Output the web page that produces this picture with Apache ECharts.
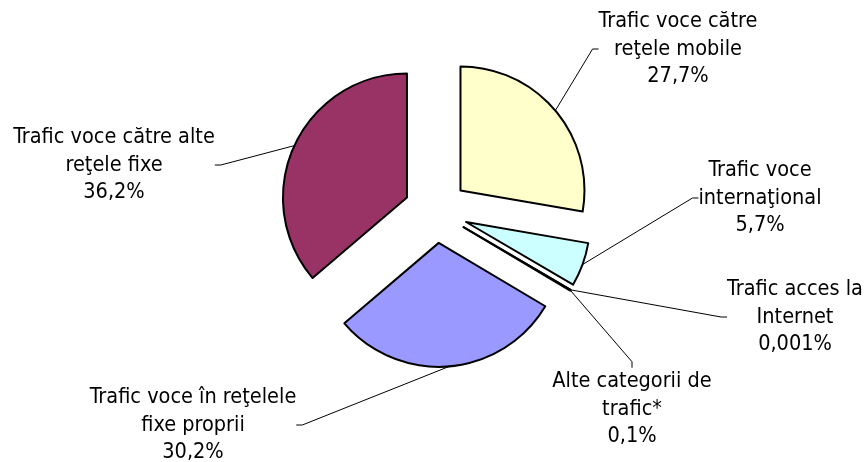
<!DOCTYPE html>
<html>
<head>
<meta charset="utf-8">
<script src="https://cdn.jsdelivr.net/npm/echarts@6/dist/echarts.min.js"></script>
<style>
  html, body { margin: 0; padding: 0; background: #fff; }
  #chart { width: 867px; height: 462px; }
</style>
</head>
<body>
<div id="chart"></div>
<script>
// slices, clockwise from 12 o'clock
const categories = [
  'Trafic voce către\nreţele mobile',
  'Trafic voce\ninternaţional',
  'Trafic acces la\nInternet',
  'Alte categorii de\ntrafic*',
  'Trafic voce în reţelele\nfixe proprii',
  'Trafic voce către alte\nreţele fixe'
];
const shares = [27.7, 5.7, 0.001, 0.1, 30.2, 36.2];
const sliceColors = ['#FFFFCC', '#CCFFFF', '#660066', '#FF8080', '#9999FF', '#993366'];

// layout
const pieCenter = [436, 211];
const pieRadius = 124;
const explode = 32;
// centre of the middle text line of each label block
const labelAnchors = [[678, 49], [760, 198], [795, 317], [632, 409], [193, 425], [114, 165]];
const tickLen = 6;

const fmt = v => String(v).replace('.', ',') + '%';

const chart = echarts.init(document.getElementById('chart'));

// leader line: from the arc midpoint (given by echarts) to the nearest side of the label block
const placeLabel = params => {
  const a = labelAnchors[params.dataIndex];
  const pts = params.labelLinePoints;
  if (!pts) return { x: a[0], y: a[1], align: 'center', verticalAlign: 'middle' };
  const start = pts[0];
  const w = params.labelRect.width;
  const h = params.labelRect.height;
  let end, dir;
  if (start[0] < a[0] - w / 2) {
    end = [a[0] - w / 2, a[1]]; dir = [-1, 0];
  } else if (start[0] > a[0] + w / 2) {
    end = [a[0] + w / 2, a[1]]; dir = [1, 0];
  } else {
    end = [a[0], a[1] - h / 2]; dir = [0, -1];
  }
  const tick = [end[0] + dir[0] * tickLen, end[1] + dir[1] * tickLen];
  return {
    x: a[0], y: a[1], align: 'center', verticalAlign: 'middle',
    labelLinePoints: [start, tick, end]
  };
};

// one pie per slice so each slice can be pulled out along its own mid angle
const total = shares.reduce((s, v) => s + v, 0);
let before = 0;
const series = shares.map((v, k) => {
  const mid = (before + v / 2) / total * 2 * Math.PI;
  before += v;
  return {
    type: 'pie',
    silent: true,
    center: [pieCenter[0] + explode * Math.sin(mid), pieCenter[1] - explode * Math.cos(mid)],
    radius: pieRadius,
    startAngle: 90,
    clockwise: true,
    avoidLabelOverlap: false,
    emphasis: { disabled: true },
    label: {
      position: 'outside',
      color: '#000',
      fontFamily: '"DejaVu Sans Condensed", "Noto Sans", sans-serif',
      fontSize: 21.5,
      lineHeight: 27.5,
      align: 'center',
      formatter: p => p.name + '\n' + fmt(p.value)
    },
    labelLine: {
      length: 10,
      length2: tickLen,
      lineStyle: { color: '#000', width: 1 }
    },
    labelLayout: placeLabel,
    data: categories.map((name, i) => ({
      name: name,
      value: shares[i],
      itemStyle: i === k
        ? { color: sliceColors[i], borderColor: '#000', borderWidth: 2 }
        : { color: 'rgba(0,0,0,0)', borderWidth: 0 },
      label: { show: i === k },
      labelLine: { show: i === k }
    }))
  };
});

chart.setOption({ animation: false, series: series });
</script>
</body>
</html>
